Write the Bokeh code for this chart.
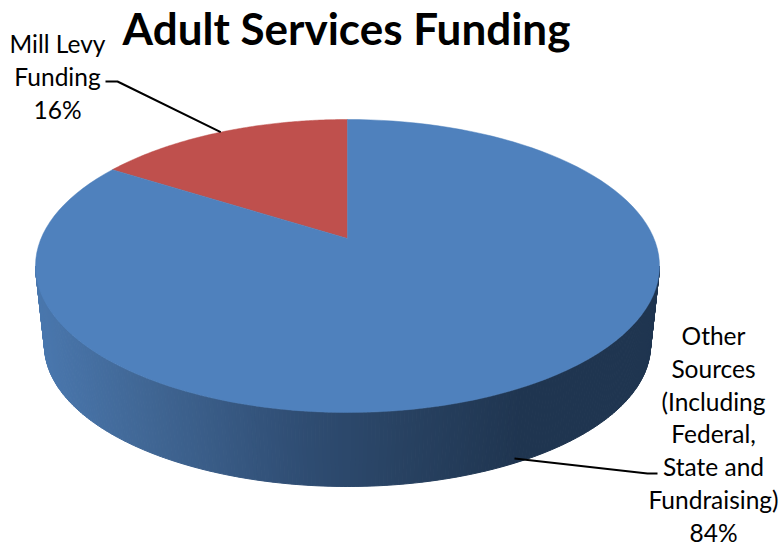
import numpy as np
from bokeh.core.properties import value
from bokeh.embed import file_html
from bokeh.models import Range1d
from bokeh.plotting import figure
from bokeh.resources import INLINE

# Funding shares, starting at twelve o'clock and running anticlockwise
categories = ["Mill Levy Funding", "Other Sources (Including Federal, State and Fundraising)"]
shares = [16, 84]
colors = ["#BF504D", "#4F81BD"]

title_text = "Adult Services Funding"
mill_label = ["Mill Levy", "Funding", "16%"]
other_label = ["Other", "Sources", "(Including", "Federal,", "State and", "Fundraising)", "84%"]

FONT = "Lato"

# Geometry of the tilted disc on the canvas
CX = 347.0
TOP_CY, TOP_RY, TOP_RX = 265.5, 146.5, 312.0
BOT_CY, BOT_RY, BOT_RX = 345.0, 141.0, 303.0
APEX_Y = 238.0

# Perspective mapping of the unit disc on to the top face:
# Y=1 lands on the far edge, Y=0 on the apex, Y=-1 on the near edge
top_edge, bot_edge = TOP_CY - TOP_RY, TOP_CY + TOP_RY
c = (2 * APEX_Y - top_edge - bot_edge) / (top_edge - bot_edge)
a = top_edge * (1 + c) - APEX_Y
R = TOP_RX * np.sqrt(1 - c * c)


def project(theta):
    """Canvas position of a rim point; theta runs anticlockwise from the top."""
    X, Y = -np.sin(theta), np.cos(theta)
    w = 1 + c * Y
    return CX + R * X / w, (a * Y + APEX_Y) / w


def wedge(start, stop):
    th = np.linspace(start, stop, 120)
    x, y = project(th)
    return np.r_[CX, x], np.r_[APEX_Y, y]


def side_color(x):
    stops_x = [35, 150, 300, 400, 520, 660]
    stops_rgb = [(74, 120, 175), (64, 102, 148), (47, 77, 115), (40, 66, 98), (31, 53, 80), (31, 53, 80)]
    rgb = [np.interp(x, stops_x, [s[i] for s in stops_rgb]) for i in range(3)]
    return "#%02x%02x%02x" % tuple(int(round(v)) for v in rgb)


p = figure(width=782, height=548, output_backend="svg", toolbar_location=None,
           x_range=Range1d(0, 782), y_range=Range1d(548, 0),
           min_border=0, outline_line_color=None, background_fill_color="white")
p.xaxis.visible = False
p.yaxis.visible = False
p.grid.visible = False

# Side wall, built from narrow shaded strips so it darkens left to right
t = np.linspace(np.pi, 2 * np.pi, 241)
tx, ty = CX + TOP_RX * np.cos(t), TOP_CY + TOP_RY * np.sin(-t)
bx, by = CX + BOT_RX * np.cos(t), BOT_CY + BOT_RY * np.sin(-t)
xs, ys, cols = [], [], []
for i in range(len(t) - 1):
    xs.append([tx[i], tx[i + 1], bx[i + 1], bx[i]])
    ys.append([ty[i], ty[i + 1], by[i + 1], by[i]])
    cols.append(side_color((tx[i] + bx[i + 1]) / 2))
p.patches(xs, ys, fill_color=cols, line_color=cols, line_width=1)

# Top face
total = sum(shares)
angle = 0.0
for share, color in zip(shares, colors):
    sweep = 2 * np.pi * share / total
    wx, wy = wedge(angle, angle + sweep)
    p.patch(wx, wy, fill_color=color, line_color=color, line_width=0.5)
    angle += sweep

# Leader lines
mx, my = project(np.pi * shares[0] / total)
p.line([105, 117, mx], [81, 81, my], line_color="black", line_width=2)
p.line([514, 647, 657], [458, 473, 473], line_color="black", line_width=2)

# Texts
p.text([346], [27], text=[title_text], text_font=value(FONT), text_font_style="bold",
       text_font_size="44px", text_align="center", text_baseline="middle", text_color="black")


def stacked(lines, x, y0, step):
    p.text([x] * len(lines), [y0 + i * step for i in range(len(lines))], text=lines,
           text_font=value(FONT), text_font_size="24.5px", text_align="center",
           text_baseline="middle", text_color="black")


stacked(mill_label, 57, 43, 33)
stacked(other_label, 713, 335, 32.8)

open("out.html", "w").write(file_html(p, INLINE))
